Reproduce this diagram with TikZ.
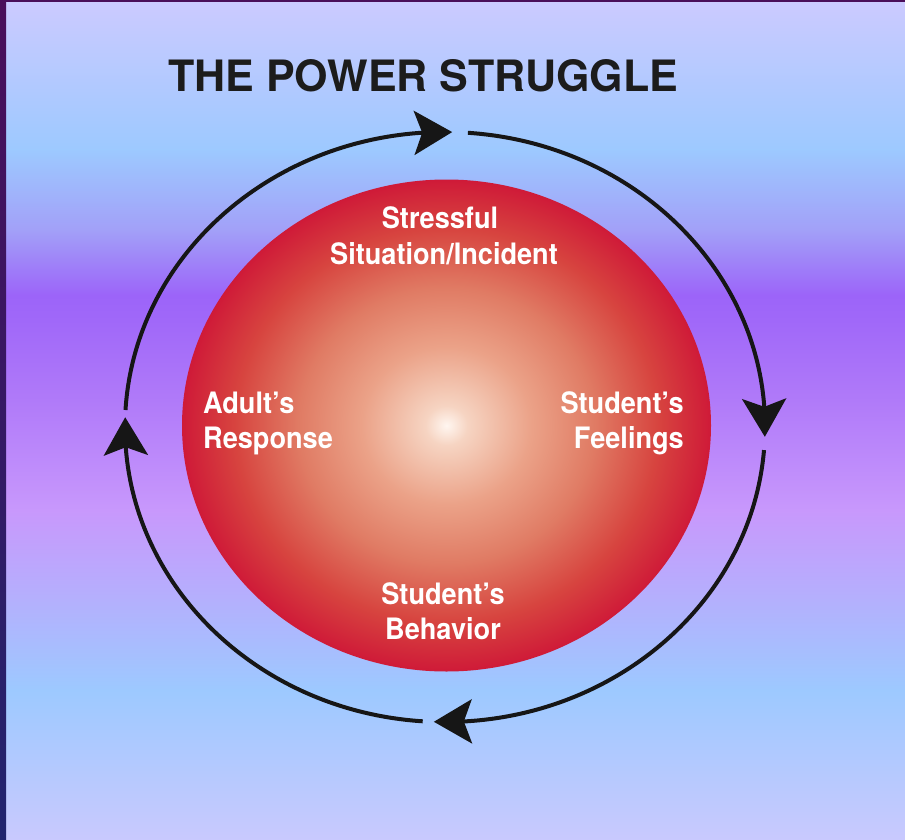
\documentclass[tikz,border=0pt]{standalone}
\usepackage{fontspec}
\usepackage{graphicx}
\setmainfont{TeX Gyre Heros}
\newfontfamily\lblfont[FakeStretch=0.92]{TeX Gyre Heros}
\usetikzlibrary{arrows.meta,bending}

\definecolor{bgA}{HTML}{CCCAFF}
\definecolor{bgB}{HTML}{9DC9FF}
\definecolor{bgC}{HTML}{A2A0F8}
\definecolor{bgD}{HTML}{9C64F9}
\definecolor{bgD2}{HTML}{A068F9}
\definecolor{bgE}{HTML}{B07AF9}
\definecolor{bgF}{HTML}{C898FC}
\definecolor{bgG}{HTML}{B4B0FD}
\definecolor{bgH}{HTML}{9DC9FF}
\definecolor{bgI}{HTML}{C9C9FE}
\definecolor{frameTop}{HTML}{4A0E5A}
\definecolor{frameBot}{HTML}{21246E}
\definecolor{arrowc}{HTML}{161616}
\definecolor{titlec}{HTML}{1C1C1C}
\definecolor{ballA}{HTML}{FFF6F0}
\definecolor{ballB}{HTML}{F6D4C2}
\definecolor{ballC}{HTML}{EBA288}
\definecolor{ballD}{HTML}{E07B64}
\definecolor{ballE}{HTML}{D7443F}
\definecolor{ballF}{HTML}{CF1A38}

\pgfdeclareradialshading{redball}{\pgfpoint{0bp}{0bp}}{%
  color(0bp)=(ballA); color(2bp)=(ballB); color(8bp)=(ballC);
  color(14bp)=(ballD); color(20bp)=(ballE); color(25bp)=(ballF);
  color(50bp)=(ballF)}

\tikzset{
  band/.style={draw=none},
  cyc/.style={line width=4pt, draw=arrowc,
    -{Stealth[length=38pt,width=44pt,inset=8pt]}},
  lbl/.style={inner sep=0pt, text=white,
    font=\lblfont\bfseries\fontsize{29.5}{35}\selectfont},
}

\begin{document}
\begin{tikzpicture}[x=1pt,y=-1pt]
\useasboundingbox (0,0) rectangle (905,840);
% background bands
\shade[band, top color=bgA, bottom color=bgB] (0,0) rectangle (905,150.5);
\shade[band, top color=bgB, bottom color=bgC] (0,150) rectangle (905,230.5);
\shade[band, top color=bgC, bottom color=bgD] (0,230) rectangle (905,295.5);
\shade[band, top color=bgD, bottom color=bgD2] (0,295) rectangle (905,320.5);
\shade[band, top color=bgD2, bottom color=bgE] (0,320) rectangle (905,400.5);
\shade[band, top color=bgE, bottom color=bgF] (0,400) rectangle (905,510.5);
\shade[band, top color=bgF, bottom color=bgG] (0,510) rectangle (905,600.5);
\shade[band, top color=bgG, bottom color=bgH] (0,600) rectangle (905,690.5);
\shade[band, top color=bgH, bottom color=bgI] (0,690) rectangle (905,840);
% dark frame
\shade[band, top color=frameTop, bottom color=frameBot] (0,0) rectangle (6,840);
\fill[frameTop] (0,0) rectangle (905,2.5);

% title
\node[anchor=base west, inner sep=0pt, text=titlec] (title) at (168,92)
  {\resizebox{510pt}{32pt}{\bfseries THE POWER STRUGGLE}};

% red ball
\shade[shading=redball] (446.5,425.5) ellipse [x radius=264.5, y radius=246];
\coordinate (ballc) at (446.5,425.5);

% labels
\node[lbl, anchor=base] (stress1) at (440,228) {Stressful};
\node[lbl, anchor=base] (stress2) at (444,264) {Situation/Incident};
\node[lbl, anchor=base west] (adult1) at (203,413) {Adult’s};
\node[lbl, anchor=base west] (adult2) at (203,448) {Response};
\node[lbl, anchor=base east] (feel1) at (684,413) {Student’s};
\node[lbl, anchor=base east] (feel2) at (684,448) {Feelings};
\node[lbl, anchor=base] (behav1) at (443,604) {Student’s};
\node[lbl, anchor=base] (behav2) at (443,639) {Behavior};

% cycle arrows
\coordinate (s1) at (125.5,410.0);
\coordinate (s2) at (467.9,132.8);
\coordinate (s3) at (764.0,450.1);
\coordinate (s4) at (422.7,721.3);
\draw[cyc] (s1) arc[start angle=-176.7, end angle=-88.7, x radius=320, y radius=295];
\draw[cyc] (s2) arc[start angle=-85.9, end angle=1.9, x radius=320, y radius=295];
\draw[cyc] (s3) arc[start angle=4.5, end angle=92, x radius=320, y radius=295];
\draw[cyc] (s4) arc[start angle=94, end angle=181.9, x radius=320, y radius=295];
\end{tikzpicture}
\end{document}
